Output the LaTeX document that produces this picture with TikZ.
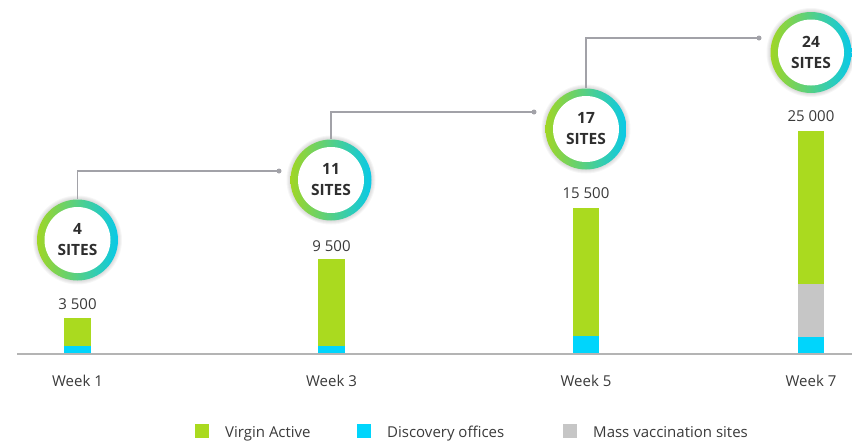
\documentclass[tikz,border=0pt]{standalone}
\usepackage{fontspec}
\setmainfont{Open Sans}
\definecolor{vagreen}{HTML}{AADA1F}
\definecolor{dcyan}{HTML}{00D5FC}
\definecolor{mgray}{HTML}{C6C6C6}
\definecolor{ringgreen}{HTML}{A0D625}
\definecolor{ringcyan}{HTML}{08C9E8}
\definecolor{txt}{HTML}{3A3A3A}
\definecolor{btxt}{HTML}{2E2E2E}
\definecolor{linegray}{HTML}{A2A2A8}
\definecolor{axisgray}{HTML}{B4B4B4}
\begin{document}
\begin{tikzpicture}[x=1pt,y=-1pt,
  lbl/.style={font=\fontsize{15}{18}\selectfont, text=txt, inner sep=0pt},
  ring/.style={circle, minimum size=81pt, inner sep=0pt,
    left color=ringgreen, right color=ringcyan,
    path picture={\fill[white] (path picture bounding box.center) circle (33pt);},
    font=\fontsize{15.5}{21}\selectfont\bfseries, text=btxt, align=center},
  conn/.style={draw=linegray, line width=1.3pt},
  dot/.style={circle, fill=linegray, inner sep=0pt, minimum size=5pt},
  legsq/.style={inner sep=0pt, minimum size=14pt},
]
\useasboundingbox (0,0) rectangle (852,440);

% bars
\fill[vagreen] (64,318) rectangle (91,354);
\fill[dcyan]   (64,346) rectangle (91,354);
\fill[vagreen] (318,259) rectangle (345,354);
\fill[dcyan]   (318,346) rectangle (345,354);
\fill[vagreen] (573,208) rectangle (599,354);
\fill[dcyan]   (573,336) rectangle (599,354);
\fill[vagreen] (798,131) rectangle (824,354);
\fill[mgray]   (798,284) rectangle (824,337);
\fill[dcyan]   (798,337) rectangle (824,354);

% axis
\coordinate (ax0) at (17,354);
\coordinate (ax1) at (852,354);
\draw[axisgray, line width=1.5pt] (ax0) -- (ax1);

% value labels
\node[lbl] (v1) at (77.5,304) {3 500};
\node[lbl] (v3) at (331.5,246) {9 500};
\node[lbl] (v5) at (586,193) {15 500};
\node[lbl] (v7) at (811,116) {25 000};

% week labels
\node[lbl] (w1) at (77.5,381) {Week 1};
\node[lbl] (w3) at (331.5,381) {Week 3};
\node[lbl] (w5) at (586,381) {Week 5};
\node[lbl] (w7) at (811,381) {Week 7};

% halos
\foreach \cx/\cy in {77.5/240, 331/180, 586/129, 811/52.5}{
  \foreach \r in {41.5,42.5,43.5,44.5}{
    \fill[black, opacity=0.035] (\cx,\cy) circle (\r pt);
  }
}

% circles
\node[ring] (c1) at (77.5,240) {4\\SITES};
\node[ring] (c2) at (331,180) {11\\SITES};
\node[ring] (c3) at (586,129) {17\\SITES};
\node[ring] (c4) at (811,52.5) {24\\SITES};

% connectors
\coordinate (d1) at (279,171);
\coordinate (d2) at (534,112);
\coordinate (d3) at (759,38);
\draw[conn] (c1.north) |- (d1);
\draw[conn] (c2.north) |- (d2);
\draw[conn] (c3.north) |- (d3);
\node[dot] (p1) at (d1) {};
\node[dot] (p2) at (d2) {};
\node[dot] (p3) at (d3) {};

% legend
\node[legsq, fill=vagreen] (s1) at (202,431) {};
\node[legsq, fill=dcyan]   (s2) at (364,431) {};
\node[legsq, fill=mgray]   (s3) at (570,431) {};
\node[lbl, anchor=base west] (t1) at (225,437) {Virgin Active};
\node[lbl, anchor=base west] (t2) at (387,437) {Discovery offices};
\node[lbl, anchor=base west] (t3) at (593,437) {Mass vaccination sites};
\end{tikzpicture}
\end{document}
